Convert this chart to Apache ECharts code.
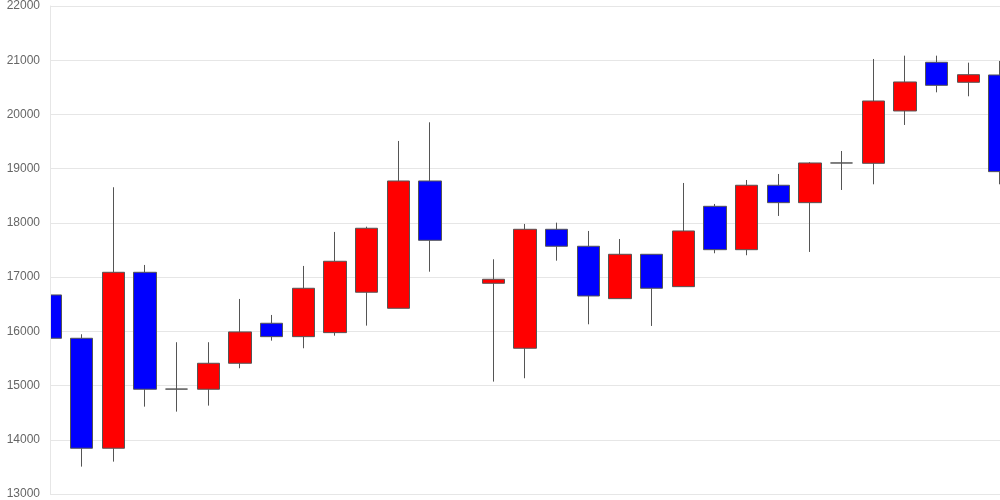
<!DOCTYPE html>
<html>
<head>
<meta charset="utf-8">
<script src="https://cdn.jsdelivr.net/npm/echarts@6/dist/echarts.min.js"></script>
<style>html,body{margin:0;padding:0;background:#fff}#c{width:1000px;height:500px}</style>
</head>
<body>
<div id="c"></div>
<script>
var categories = ['1','2','3','4','5','6','7','8','9','10','11','12','13','14','15','16','17','18','19','20','21','22','23','24','25','26','27','28','29','30','31'];
// [open, close, low, high]
var opens  = [16671,15872,13844,17089,14935,14932,15411,16149,15902,15976,16721,16425,18773,null,16886,15688,17882,17569,16603,17421,16824,18306,17506,18694,18373,19105,19099,20064,20962,20593,20728];
var closes = [15872,13844,17089,14932,14935,15411,15989,15902,16794,17292,17901,18773,17679,null,16960,17882,17569,16652,17421,16794,17851,17506,18694,18373,19105,19105,20248,20599,20537,20733,18945];
var lows   = [15717,13505,13597,14611,14519,14630,15319,15828,15688,15920,16105,16425,17100,null,15073,15135,17303,16130,16603,16099,16824,17440,17403,18128,17464,18607,18712,19806,20408,20335,18712];
var highs  = [16720,15946,18657,17224,15799,15799,16597,16302,17206,17833,17930,19511,19855,null,17329,17980,18004,17851,17703,17421,18736,18349,18791,18902,19120,19326,21023,21084,21084,20955,20986];
var yTicks = {min:13000, max:22000, interval:1000};

var data = categories.map(function(c,i){
  if (opens[i] === null) return '-';
  return [opens[i], closes[i], lows[i], highs[i]];
});

var chart = echarts.init(document.getElementById('c'), null, {renderer:'canvas'});
chart.setOption({
  animation:false,
  grid:{left:50, right:0, top:6, bottom:6, containLabel:false},
  graphic:[{
    type:'rect', left:0, top:0, z:5, silent:true,
    shape:{width:50, height:500},
    style:{fill:'#ffffff'}
  }],
  xAxis:{
    type:'category', data:categories, boundaryGap:false,
    axisLabel:{show:false}, axisTick:{show:false},
    axisLine:{show:false}, splitLine:{show:false}
  },
  yAxis:[{
    type:'value', min:yTicks.min, max:yTicks.max, interval:yTicks.interval,
    axisLine:{show:false}, axisTick:{show:false}, axisLabel:{show:false},
    splitLine:{lineStyle:{color:'#e6e6e6'}}
  },{
    type:'value', position:'left', min:yTicks.min, max:yTicks.max, interval:yTicks.interval, z:10,
    axisLine:{show:true, lineStyle:{color:'#e6e6e6'}},
    axisTick:{show:false},
    splitLine:{show:false},
    axisLabel:{color:'#666', fontSize:12, fontFamily:'Arial, Liberation Sans, sans-serif', margin:10,
      formatter:function(v){return String(v);}}
  }],
  series:[{
    type:'candlestick',
    data:data,
    yAxisIndex:0,
    barWidth:23,
    clip:true,
    itemStyle:{
      color:'#ff0000', color0:'#0000ff',
      borderColor:'#555', borderColor0:'#555', borderColorDoji:'#555',
      borderWidth:1
    }
  }]
});
</script>
</body>
</html>
